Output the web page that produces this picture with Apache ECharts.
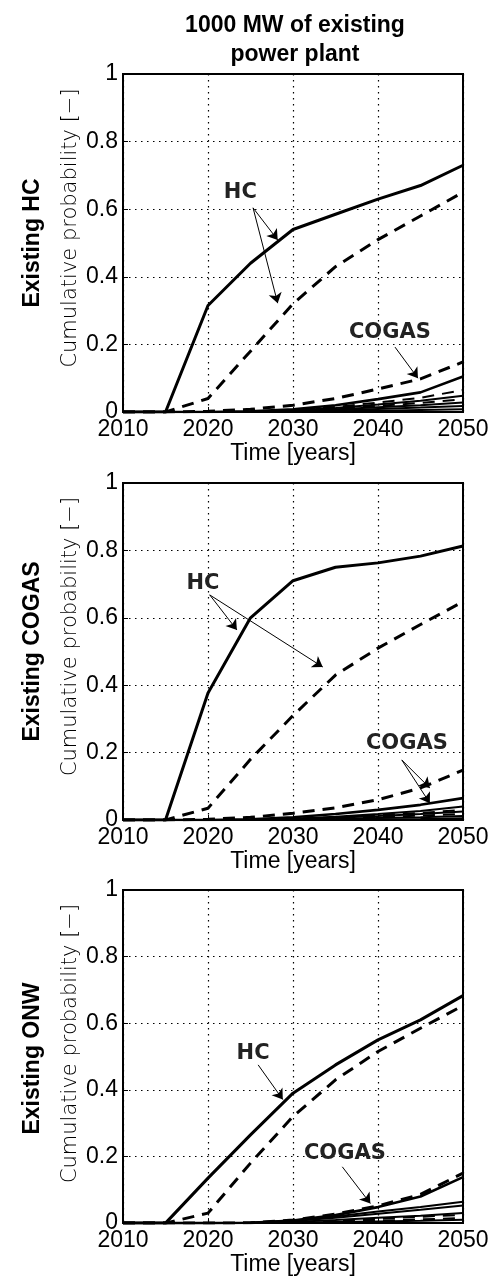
<!DOCTYPE html>
<html>
<head>
<meta charset="utf-8">
<script src="https://cdn.jsdelivr.net/npm/echarts@6/dist/echarts.min.js"></script>
<style>
  html, body { margin: 0; padding: 0; background: #fff; }
  #main { width: 501px; height: 1277px; }
</style>
</head>
<body>
<div id="main"></div>
<script>
// time axis, every 5 years
var years = [2010, 2015, 2020, 2025, 2030, 2035, 2040, 2045, 2050];
var rowNames = ['Existing HC', 'Existing COGAS', 'Existing ONW'];

// panel 1 - existing HC
var p1HcSolid = [0, 0, 0.315, 0.44, 0.54, 0.585, 0.63, 0.67, 0.73];
var p1HcDashed = [0, 0, 0.04, 0.18, 0.32, 0.43, 0.51, 0.58, 0.65];
var p1CogasSolid = [0, 0, 0, 0.002, 0.008, 0.02, 0.038, 0.058, 0.105];
var p1CogasDashed = [0, 0, 0.002, 0.008, 0.02, 0.04, 0.068, 0.098, 0.148];
var p1MinorSolid = [
  [0, 0, 0, 0.001, 0.005, 0.012, 0.022, 0.033, 0.048],
  [0, 0, 0, 0, 0.003, 0.008, 0.014, 0.02, 0.028],
  [0, 0, 0, 0, 0.002, 0.005, 0.009, 0.013, 0.018],
  [0, 0, 0, 0, 0.001, 0.002, 0.004, 0.006, 0.008]
];
var p1MinorDashed = [
  [0, 0, 0, 0.001, 0.006, 0.015, 0.028, 0.042, 0.065],
  [0, 0, 0, 0.001, 0.004, 0.01, 0.018, 0.027, 0.038]
];

// panel 2 - existing COGAS
var p2HcSolid = [0, 0, 0.377, 0.6, 0.71, 0.75, 0.763, 0.783, 0.813];
var p2HcDashed = [0, 0, 0.035, 0.18, 0.31, 0.43, 0.51, 0.58, 0.648];
var p2CogasSolid = [0, 0, 0, 0.002, 0.008, 0.018, 0.03, 0.045, 0.065];
var p2CogasDashed = [0, 0, 0.002, 0.008, 0.02, 0.036, 0.06, 0.095, 0.148];
var p2MinorSolid = [
  [0, 0, 0, 0.001, 0.004, 0.01, 0.018, 0.027, 0.04],
  [0, 0, 0, 0, 0.003, 0.007, 0.012, 0.018, 0.025],
  [0, 0, 0, 0, 0.001, 0.003, 0.006, 0.008, 0.012],
  [0, 0, 0, 0, 0, 0.001, 0.002, 0.003, 0.005]
];
var p2MinorDashed = [
  [0, 0, 0, 0.001, 0.003, 0.008, 0.014, 0.021, 0.03],
  [0, 0, 0, 0, 0.002, 0.005, 0.009, 0.013, 0.018]
];

// panel 3 - existing ONW
var p3HcSolid = [0, 0, 0.135, 0.265, 0.39, 0.475, 0.55, 0.61, 0.683];
var p3HcDashed = [0, 0, 0.03, 0.18, 0.32, 0.43, 0.515, 0.585, 0.653];
var p3CogasSolid = [0, 0, 0, 0.001, 0.008, 0.024, 0.048, 0.08, 0.138];
var p3CogasDashed = [0, 0, 0, 0.001, 0.009, 0.027, 0.052, 0.086, 0.15];
var p3MinorSolid = [
  [0, 0, 0, 0.001, 0.008, 0.02, 0.035, 0.048, 0.064],
  [0, 0, 0, 0.001, 0.006, 0.016, 0.028, 0.04, 0.053],
  [0, 0, 0, 0, 0.003, 0.009, 0.016, 0.022, 0.03],
  [0, 0, 0, 0, 0.001, 0.003, 0.005, 0.007, 0.01]
];
var p3MinorDashed = [
  [0, 0, 0, 0, 0.002, 0.007, 0.013, 0.019, 0.025],
  [0, 0, 0, 0, 0.001, 0.004, 0.007, 0.011, 0.015]
];

// annotation labels [text, year, prob] and arrows [fromYear, fromProb, toYear, toProb]
var p1Labels = [['HC', 2023.8, 0.65], ['COGAS', 2041.4, 0.234]];
var p1Arrows = [[2025.3, 0.604, 2028.2, 0.509], [2025.3, 0.604, 2028.2, 0.322], [2042.0, 0.192, 2044.7, 0.1]];
var p2Labels = [['HC', 2019.4, 0.703], ['COGAS', 2043.4, 0.228]];
var p2Arrows = [[2020.2, 0.668, 2023.4, 0.564], [2020.2, 0.668, 2033.5, 0.454], [2042.8, 0.178, 2046.1, 0.095], [2042.8, 0.178, 2046.1, 0.05]];
var p3Labels = [['HC', 2025.3, 0.51], ['COGAS', 2036.1, 0.208]];
var p3Arrows = [[2025.9, 0.475, 2028.8, 0.371], [2035.8, 0.169, 2039.1, 0.059]];

var panels = [
  { hcS: p1HcSolid, hcD: p1HcDashed, coS: p1CogasSolid, coD: p1CogasDashed, minS: p1MinorSolid, minD: p1MinorDashed, labels: p1Labels, arrows: p1Arrows },
  { hcS: p2HcSolid, hcD: p2HcDashed, coS: p2CogasSolid, coD: p2CogasDashed, minS: p2MinorSolid, minD: p2MinorDashed, labels: p2Labels, arrows: p2Arrows },
  { hcS: p3HcSolid, hcD: p3HcDashed, coS: p3CogasSolid, coD: p3CogasDashed, minS: p3MinorSolid, minD: p3MinorDashed, labels: p3Labels, arrows: p3Arrows }
];

var gridTops = [74, 483, 890];
var gridHeights = [338, 337, 337];
var plotLeft = 123, plotWidth = 340;

function pairs(vals) {
  return years.map(function (y, i) { return [y, vals[i]]; });
}

function lineSeries(idx, vals, dashed, width) {
  return {
    type: 'line',
    xAxisIndex: idx,
    yAxisIndex: idx,
    data: pairs(vals),
    showSymbol: false,
    silent: true,
    lineStyle: { color: '#000', width: width, type: dashed ? [12, 8] : 'solid' },
    z: 3
  };
}

var grids = [], xAxes = [], yAxes = [], series = [], graphics = [];

panels.forEach(function (p, i) {
  grids.push({
    left: plotLeft, width: plotWidth, top: gridTops[i], height: gridHeights[i],
    show: true, borderColor: '#000', borderWidth: 2, backgroundColor: '#fff'
  });
  xAxes.push({
    type: 'value', gridIndex: i, min: 2010, max: 2050, interval: 10,
    name: 'Time [years]', nameLocation: 'middle', nameGap: 29,
    nameTextStyle: { fontSize: 23, color: '#000', fontFamily: 'Liberation Sans' },
    axisLine: { lineStyle: { color: '#000', width: 2 } },
    axisTick: { inside: true, length: 5, lineStyle: { color: '#000' } },
    axisLabel: { fontSize: 23, color: '#000', margin: 6, fontFamily: 'Liberation Sans',
      formatter: function (v) { return String(v); } },
    splitLine: { lineStyle: { color: '#000', width: 1.2, type: [1.5, 4.5] } }
  });
  yAxes.push({
    type: 'value', gridIndex: i, min: 0, max: 1, interval: 0.2,
    axisLine: { lineStyle: { color: '#000', width: 2 } },
    axisTick: { inside: true, length: 5, lineStyle: { color: '#000' } },
    axisLabel: { fontSize: 23, color: '#000', margin: 5, fontFamily: 'Liberation Sans' },
    splitLine: { lineStyle: { color: '#000', width: 1.2, type: [1.5, 4.5] } }
  });

  p.minS.forEach(function (v) { series.push(lineSeries(i, v, false, 2)); });
  p.minD.forEach(function (v) { series.push(lineSeries(i, v, true, 2)); });
  series.push(lineSeries(i, p.coS, false, 2.6));
  series.push(lineSeries(i, p.coD, true, 3));
  series.push(lineSeries(i, p.hcD, true, 3));

  var hc = lineSeries(i, p.hcS, false, 3);
  hc.markLine = {
    silent: true,
    symbol: ['none', 'arrow'],
    symbolSize: 10,
    label: { show: false },
    lineStyle: { color: '#000', width: 1, type: 'solid' },
    itemStyle: { color: '#000' },
    data: p.arrows.map(function (a) {
      return [{ coord: [a[0], a[1]] }, { coord: [a[2], a[3]] }];
    })
  };
  hc.markPoint = {
    silent: true,
    symbol: 'rect',
    symbolSize: 1,
    itemStyle: { color: 'rgba(0,0,0,0)' },
    label: {
      show: true, position: 'inside', formatter: '{b}',
      fontSize: 21, fontWeight: 'bold', fontFamily: 'DejaVu Sans', color: '#222'
    },
    data: p.labels.map(function (l) { return { name: l[0], coord: [l[1], l[2]] }; })
  };
  series.push(hc);

  graphics.push({
    type: 'text',
    x: 33,
    y: gridTops[i] + gridHeights[i] / 2,
    rotation: Math.PI / 2,
    style: {
      text: rowNames[i],
      fontSize: 23, fontWeight: 'bold', fontFamily: 'Liberation Sans',
      fill: '#000', textAlign: 'center', textVerticalAlign: 'middle'
    }
  });
  graphics.push({
    type: 'text',
    x: 71,
    y: gridTops[i] + gridHeights[i] / 2 - 15,
    rotation: Math.PI / 2,
    style: {
      text: 'Cumulative probability [\u2212]',
      fontSize: 21, fontWeight: 200, fontFamily: 'DejaVu Sans',
      fill: '#000', textAlign: 'center', textVerticalAlign: 'middle'
    }
  });
});

var chart = echarts.init(document.getElementById('main'));
chart.setOption({
  animation: false,
  backgroundColor: '#fff',
  title: {
    text: '1000 MW of existing\npower plant',
    left: 290, top: 6, textAlign: 'center',
    textStyle: { fontSize: 23, fontWeight: 'bold', fontFamily: 'Liberation Sans', color: '#000', lineHeight: 29 }
  },
  grid: grids,
  xAxis: xAxes,
  yAxis: yAxes,
  series: series,
  graphic: graphics
});
</script>
</body>
</html>
